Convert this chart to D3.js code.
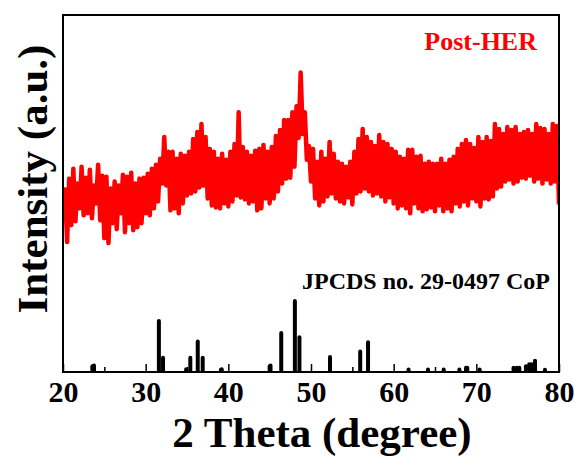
<!DOCTYPE html>
<html>
<head>
<meta charset="utf-8">
<script src="https://cdn.jsdelivr.net/npm/d3@7"></script>
<style>
  body { margin: 0; background: #fff; }
  text { font-family: "Liberation Serif", "Times New Roman", serif; font-weight: bold; }
</style>
</head>
<body>
<div id="xrd"></div>
<script>
// measured pattern, Post-HER sample (2 theta from 20 to 80, step 0.25)
const scanStart = 20, scanStep = 0.25;
const intensity = [
  150, 184, 131, 195,  // 20
  148, 205, 152, 190,  // 21
  165, 207, 158, 196,  // 22
  160, 204, 155, 188,  // 23
  170, 209, 153, 198,  // 24
  135, 197, 130, 185,  // 25
  150, 192, 144, 188,  // 26
  160, 199, 141, 197,  // 27
  150, 201, 143, 190,  // 28
  146, 195, 150, 196,  // 29
  160, 200, 158, 205,  // 30
  165, 209, 172, 215,  // 31
  190, 237, 188, 222,  // 32
  163, 222, 165, 215,  // 33
  160, 220, 170, 218,  // 34
  178, 222, 180, 235,  // 35
  182, 242, 186, 250,  // 36
  188, 237, 175, 225,  // 37
  168, 222, 166, 215,  // 38
  165, 220, 170, 214,  // 39
  167, 222, 172, 230,  // 40
  178, 262, 176, 227,  // 41
  174, 222, 170, 218,  // 42
  172, 223, 163, 225,  // 43
  165, 229, 175, 222,  // 44
  170, 227, 175, 238,  // 45
  182, 244, 190, 254,  // 46
  195, 254, 196, 262,  // 47
  207, 268, 236, 302,  // 48
  240, 262, 214, 228,  // 49
  192, 225, 175, 212,  // 50
  168, 222, 172, 215,  // 51
  177, 232, 180, 220,  // 52
  175, 212, 172, 210,  // 53
  170, 207, 176, 212,  // 54
  169, 222, 180, 235,  // 55
  182, 245, 185, 237,  // 56
  182, 232, 178, 228,  // 57
  180, 239, 177, 232,  // 58
  172, 230, 176, 225,  // 59
  170, 222, 165, 217,  // 60
  168, 215, 165, 224,  // 61
  160, 224, 170, 217,  // 62
  165, 218, 162, 210,  // 63
  164, 212, 166, 210,  // 64
  162, 210, 168, 215,  // 65
  162, 210, 165, 214,  // 66
  162, 217, 170, 225,  // 67
  167, 230, 172, 234,  // 68
  168, 230, 175, 226,  // 69
  172, 237, 167, 232,  // 70
  175, 237, 174, 233,  // 71
  177, 250, 185, 245,  // 72
  187, 240, 192, 247,  // 73
  194, 244, 190, 247,  // 74
  192, 240, 196, 242,  // 75
  195, 244, 198, 240,  // 76
  192, 250, 195, 246,  // 77
  190, 245, 194, 240,  // 78
  190, 250, 192, 248,  // 79
  169                  // 80
];

// reference card JCPDS 29-0497 (CoP): peak position and relative intensity
const refPos = [23.55, 23.75, 31.6, 32.1, 34.9, 35.4, 36.3, 36.9, 39.1, 39.2,
  45.0, 45.1, 46.4, 48.05, 48.6, 52.3, 55.95, 56.9, 61.8, 64.15, 66.05, 67.95,
  68.75, 68.9, 70.4, 74.5, 74.9, 75.2, 76.0, 76.4, 76.7, 77.1, 78.3];
const refInt = [8, 9, 72, 20, 4, 20, 43, 20, 3, 4,
  8, 9, 55, 100, 49, 21, 29, 42, 3.5, 3.5, 3.5, 3.5,
  6, 6, 3.5, 6, 6, 6, 8, 11, 11, 16, 3];

const majorTicks = [20, 30, 40, 50, 60, 70, 80];
const minorTicks = [25, 35, 45, 55, 65, 75];

const width = 579, height = 458,
    margin = ({ top: 15, right: 20, bottom: 86, left: 63 });

let svg = d3.select("#xrd")
    .append("svg")
    .attr("width", width)
    .attr("height", height);

let x = d3.scaleLinear()
    .domain([20, 80])
    .range([margin.left, width - margin.right]);

let y = d3.scaleLinear()
    .domain([0, 360])
    .range([height - margin.bottom, margin.top]);

// sticks sit on the bottom, 100% = 71px
let yRef = d3.scaleLinear()
    .domain([0, 100])
    .range([height - margin.bottom, height - margin.bottom - 71]);

svg.append("clipPath")
    .attr("id", "clip")
  .append("rect")
    .attr("x", margin.left)
    .attr("y", margin.top)
    .attr("width", width - margin.left - margin.right)
    .attr("height", height - margin.top - margin.bottom);

let pts = intensity.map((v, i) => [scanStart + i * scanStep, v]);

svg.append("path")
    .datum(pts)
    .attr("clip-path", "url(#clip)")
    .attr("fill", "none")
    .attr("stroke", "#ff0000")
    .attr("stroke-width", 4.5)
    .attr("stroke-linejoin", "round")
    .attr("d", d3.line().x(d => x(d[0])).y(d => y(d[1])));

svg.append("g")
    .attr("clip-path", "url(#clip)")
    .selectAll("line")
    .data(refPos)
    .join("line")
    .attr("x1", d => x(d))
    .attr("x2", d => x(d))
    .attr("y1", yRef(0) + 3)
    .attr("y2", (d, i) => yRef(refInt[i]))
    .attr("stroke", "#000")
    .attr("stroke-width", 4)
    .attr("stroke-linecap", "round");

// inward ticks
svg.append("g")
    .attr("transform", `translate(0,${height - margin.bottom})`)
    .call(d3.axisBottom(x).tickValues(majorTicks).tickSize(-8).tickPadding(9).tickFormat(d3.format("d")))
    .call(g => g.select(".domain").remove())
    .call(g => g.selectAll("line").attr("stroke-width", 1.5))
    .call(g => g.selectAll("text")
        .attr("fill", "#000")
        .style("font-size", "30px"));

svg.append("g")
    .attr("transform", `translate(0,${height - margin.bottom})`)
    .call(d3.axisBottom(x).tickValues(minorTicks).tickSize(-5).tickFormat(""))
    .call(g => g.select(".domain").remove())
    .call(g => g.selectAll("line").attr("stroke-width", 1.5));

svg.append("rect")
    .attr("x", margin.left)
    .attr("y", margin.top)
    .attr("width", width - margin.left - margin.right)
    .attr("height", height - margin.top - margin.bottom)
    .attr("fill", "none")
    .attr("stroke", "#000")
    .attr("stroke-width", 2);

svg.append("text")
    .attr("x", 537)
    .attr("y", 50)
    .attr("text-anchor", "end")
    .attr("fill", "#ff0000")
    .style("font-size", "26px")
    .text("Post-HER");

svg.append("text")
    .attr("x", 550)
    .attr("y", 289)
    .attr("text-anchor", "end")
    .attr("fill", "#000")
    .style("font-size", "24px")
    .text("JPCDS no. 29-0497 CoP");

svg.append("text")
    .attr("x", 322)
    .attr("y", 447)
    .attr("text-anchor", "middle")
    .style("font-size", "43px")
    .text("2 Theta (degree)");

svg.append("text")
    .attr("transform", `translate(47,179) rotate(-90)`)
    .attr("text-anchor", "middle")
    .style("font-size", "43px")
    .text("Intensity (a.u.)");
</script>
</body>
</html>
